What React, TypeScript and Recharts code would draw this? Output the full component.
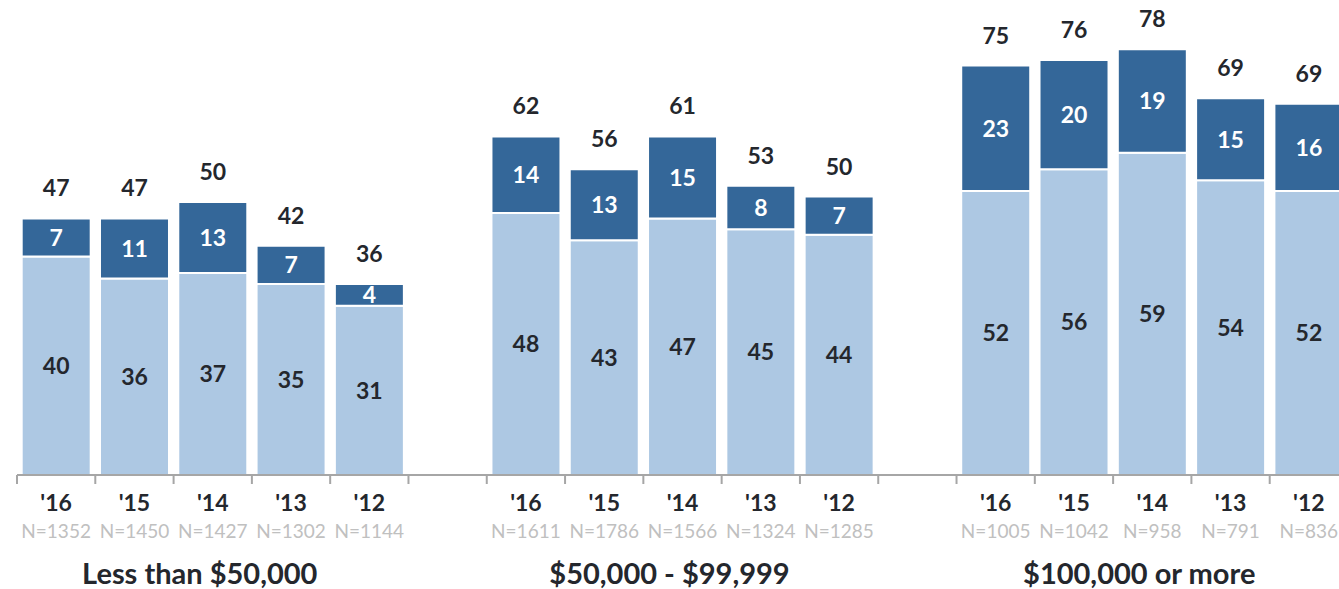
import React from "react";
import { BarChart, Bar, XAxis, YAxis, LabelList } from "recharts";

const years = ["'16", "'15", "'14", "'13", "'12"];
const groups = ["Less than $50,000", "$50,000 - $99,999", "$100,000 or more"];
const lightVals = [
  [40, 36, 37, 35, 31],
  [48, 43, 47, 45, 44],
  [52, 56, 59, 54, 52],
];
const darkVals = [
  [7, 11, 13, 7, 4],
  [14, 13, 15, 8, 7],
  [23, 20, 19, 15, 16],
];
const totals = [
  [47, 47, 50, 42, 36],
  [62, 56, 61, 53, 50],
  [75, 76, 78, 69, 69],
];
const nCounts = [
  [1352, 1450, 1427, 1302, 1144],
  [1611, 1786, 1566, 1324, 1285],
  [1005, 1042, 958, 791, 836],
];

type Row = {
  key: string;
  year: string;
  n: string;
  group: string;
  light: number | null;
  dark: number | null;
  total: number | null;
};

const data: Row[] = [];
groups.forEach((g, gi) => {
  if (gi > 0) {
    data.push({ key: "gap" + gi, year: "", n: "", group: "", light: null, dark: null, total: null });
  }
  years.forEach((y, yi) => {
    data.push({
      key: g + y,
      year: y,
      n: "N=" + nCounts[gi][yi],
      group: yi === 2 ? g : "",
      light: lightVals[gi][yi],
      dark: darkVals[gi][yi],
      total: totals[gi][yi],
    });
  });
});

const CHART_W = 1360;
const MARGIN_L = 17;
const MARGIN_R = 12;
const SLOT = (CHART_W - MARGIN_L - MARGIN_R) / data.length;

const FONT = "Lato, 'Open Sans', sans-serif";
const DARK_TEXT = "#24272d";

const Tick = (props: any) => {
  const { x, y, payload } = props;
  const row = data[payload.index];
  const left = x - SLOT / 2;
  return (
    <g>
      <line x1={left} x2={left} y1={y - 8} y2={y + 1} stroke="#a6a6a6" strokeWidth={2} />
      {row && row.year ? (
        <>
          <text x={x} y={y + 28} textAnchor="middle" fontFamily={FONT} fontWeight={700} fontSize={23} fill={DARK_TEXT}>
            {row.year}
          </text>
          <text x={x} y={y + 55} textAnchor="middle" fontFamily={FONT} fontSize={19} fill="#c0c0c0">
            {row.n}
          </text>
        </>
      ) : null}
      {row && row.group ? (
        <text x={x - 13} y={y + 101} textAnchor="middle" fontFamily={FONT} fontWeight={700} fontSize={29} fill={DARK_TEXT}>
          {row.group}
        </text>
      ) : null}
    </g>
  );
};

const TotalLabel = (props: any) => {
  const { x, y, width, value } = props;
  if (value == null) return null;
  return (
    <text x={x + width / 2} y={y - 22} textAnchor="middle" fontFamily={FONT} fontWeight={700} fontSize={23} fill={DARK_TEXT}>
      {value}
    </text>
  );
};

const InLabel = (color: string) => (props: any) => {
  const { x, y, width, height, value } = props;
  if (value == null) return null;
  return (
    <text
      x={x + width / 2}
      y={y + height / 2}
      dy="0.36em"
      textAnchor="middle"
      fontFamily={FONT}
      fontWeight={700}
      fontSize={23}
      fill={color}
    >
      {value}
    </text>
  );
};

export default function App() {
  return (
    <div style={{ position: "absolute", left: 0, top: 0, width: 1339, height: 589, overflow: "hidden", background: "#fff" }}>
      <BarChart
        width={CHART_W}
        height={589}
        data={data}
        margin={{ top: 0, right: MARGIN_R, left: MARGIN_L, bottom: 4 }}
        barCategoryGap="6%"
      >
        <XAxis
          dataKey="key"
          interval={0}
          height={110}
          axisLine={{ stroke: "#a6a6a6", strokeWidth: 2 }}
          tickLine={false}
          tick={<Tick />}
        />
        <YAxis hide domain={[0, 87]} />
        <Bar dataKey="light" stackId="a" fill="#adc8e3" stroke="#ffffff" strokeWidth={2} isAnimationActive={false}>
          <LabelList dataKey="light" content={InLabel(DARK_TEXT)} />
        </Bar>
        <Bar dataKey="dark" stackId="a" fill="#346799" stroke="#ffffff" strokeWidth={2} isAnimationActive={false}>
          <LabelList dataKey="dark" content={InLabel("#ffffff")} />
          <LabelList dataKey="total" content={TotalLabel} />
        </Bar>
      </BarChart>
    </div>
  );
}
